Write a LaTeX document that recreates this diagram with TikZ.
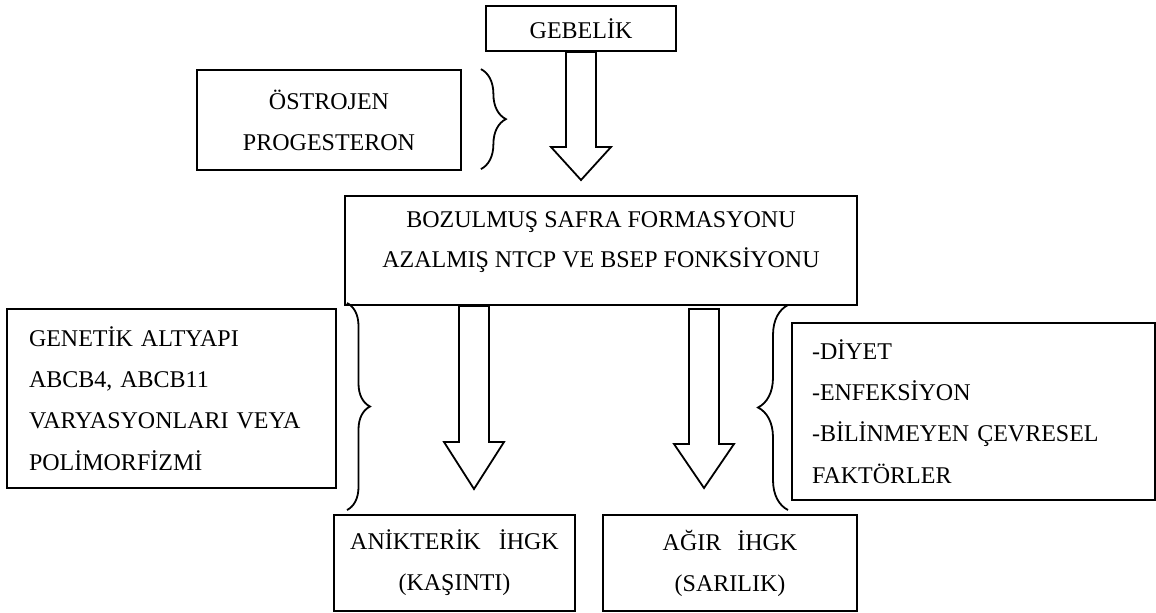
\documentclass[tikz,border=0pt]{standalone}
\usepackage{fontspec}
\setmainfont{Liberation Serif}
\usetikzlibrary{calc,decorations.pathreplacing}

\tikzset{
  box/.style={draw, line width=0.9pt, inner sep=0pt, align=center,
    font=\fontsize{12}{20.5}\selectfont},
  lbox/.style={draw, line width=0.9pt, inner ysep=0pt, align=left,
    font=\fontsize{12}{20.7}\selectfont},
  curly/.style={decorate, decoration={brace, amplitude=#1}, line width=0.9pt},
}
% hollow block arrow: #1 top of the shaft, #2 tip, #3 head length
\newcommand{\blockarrow}[3]{%
  \draw[line width=0.9pt] ($(#1)+(-15,0)$) -- ($(#2)+(-15,-#3)$) -- ($(#2)+(-30,-#3)$)
    -- (#2) -- ($(#2)+(30,-#3)$) -- ($(#2)+(15,-#3)$) -- ($(#1)+(15,0)$) -- cycle;}

\begin{document}
\begin{tikzpicture}[x=0.5pt,y=-0.5pt]
  \useasboundingbox (0,0) rectangle (1156,612);

  % top row
  \node[box, minimum width=95pt, minimum height=22.5pt] (gebelik) at (581,28.5) {GEBELİK};
  \node[box, minimum width=132pt, minimum height=50pt] (hormon) at (329,120) {ÖSTROJEN\\PROGESTERON};

  % middle box, text sits a little above the centre
  \node[box, minimum width=256pt, minimum height=54.5pt] (safra) at (601,250.5) {};
  \node[align=center, font=\fontsize{12}{20}\selectfont] (safratxt) at (601,242)
    {BOZULMUŞ SAFRA FORMASYONU\\AZALMIŞ NTCP VE BSEP FONKSİYONU};

  % side factors
  \node[lbox, inner xsep=11pt, text width=142.5pt, minimum height=89.5pt] (genetik) at (171.5,398.5)
    {GENETİK ALTYAPI\\ABCB4, ABCB11\\VARYASYONLARI VEYA\\POLİMORFİZMİ};
  \node[lbox, inner xsep=10pt, text width=161.5pt, minimum height=88.5pt] (cevre) at (973.5,411.5)
    {-DİYET\\-ENFEKSİYON\\-BİLİNMEYEN ÇEVRESEL\\FAKTÖRLER};

  % outcomes
  \node[box, minimum width=120.5pt, minimum height=48pt] (anikterik) at (454.5,563)
    {ANİKTERİK\hspace{9pt}İHGK\\(KAŞINTI)};
  \node[box, minimum width=127pt, minimum height=48pt] (agir) at (730,563)
    {AĞIR\hspace{8pt}İHGK\\(SARILIK)};

  % block arrows
  \coordinate (t1) at (gebelik.south |- 0,180);
  \blockarrow{gebelik.south}{t1}{33}
  \coordinate (a2) at (474,0 |- safra.south);
  \coordinate (t2) at (474,489);
  \blockarrow{a2}{t2}{47}
  \coordinate (a3) at (704,309);
  \coordinate (t3) at (704,488);
  \blockarrow{a3}{t3}{44}

  % braces
  \draw[curly=12.5pt] (hormon.north east) ++(19,0) -- ++(0,100);
  \draw[curly=11.5pt] (347,303) -- (347,510);
  \draw[curly=15pt] (788,510) -- (788,305);
\end{tikzpicture}
\end{document}
